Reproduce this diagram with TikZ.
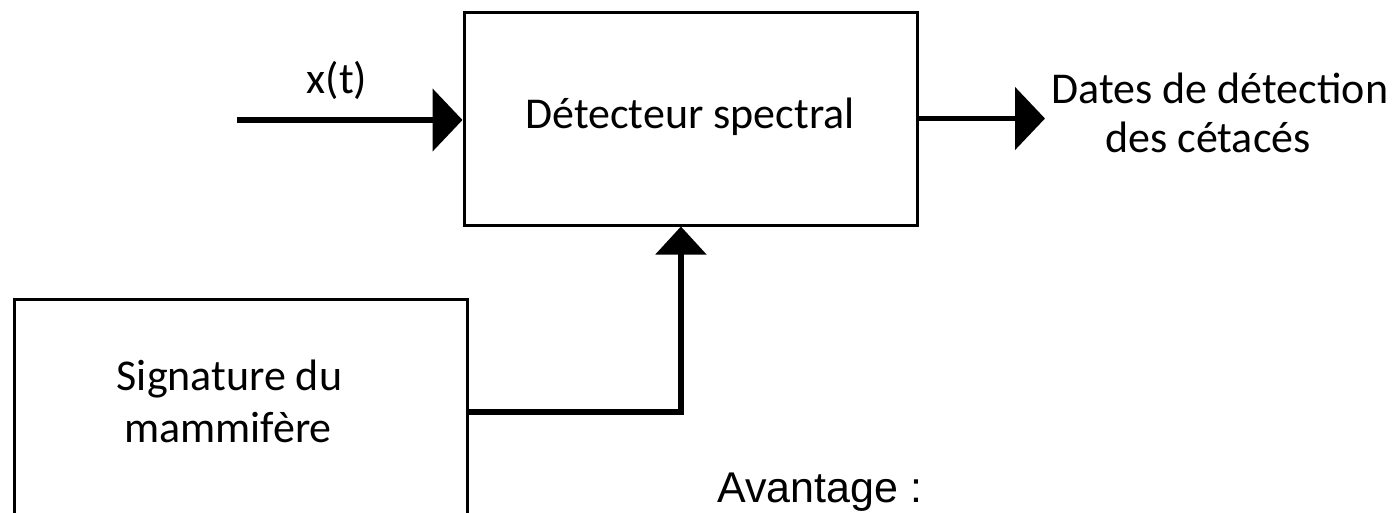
\documentclass[tikz,border=0pt]{standalone}
\usepackage{fontspec}
\setmainfont{Carlito}
\newfontfamily\arialfont{Liberation Sans}
\usetikzlibrary{arrows.meta,calc}
\begin{document}
\begin{tikzpicture}[x=1pt,y=-1pt,
  block/.style={draw, line width=3pt, minimum width=453pt, inner sep=0pt},
  lbl/.style={font=\fontsize{44}{50}\selectfont, inner sep=0pt, anchor=base},
  conn/.style={line width=5.5pt, -{Triangle[length=30pt,width=62pt]}},
  connup/.style={line width=5.5pt, -{Triangle[length=28pt,width=50pt]}}]
  \useasboundingbox (0,0) rectangle (1395,512);
  \clip (0,0) rectangle (1395,512);

  % blocks
  \node[block, minimum height=213pt] (det) at (690.5,118.5) {};
  \node[block, minimum height=226pt] (sig) at (240.5,412) {};

  % texts
  \node[lbl] (dettxt) at (690,128) {Détecteur spectral};
  \node[lbl] (xt) at (337,93) {x(t)};
  \node[lbl] (outa) at (1220,103) {Dates de détection};
  \node[lbl] (outb) at (1208,152) {des cétacés};
  \node[lbl] (siga) at (229.5,390) {Signature du};
  \node[lbl] (sigb) at (228,442) {mammifère};
  \node[anchor=base west, inner sep=0pt, font=\arialfont\fontsize{43}{50}\selectfont] (adv) at (717,502) {Avantage :};

  % connectors
  \coordinate (xin) at (237,120);
  \coordinate (outend) at (1045,118.5);
  \draw[conn] (xin) -- (xin -| det.west);
  \draw[conn] (det.east) -- (outend);
  \draw[connup] (sig.east) -| ($(det.south west)!0.479!(det.south east)$);
\end{tikzpicture}
\end{document}
